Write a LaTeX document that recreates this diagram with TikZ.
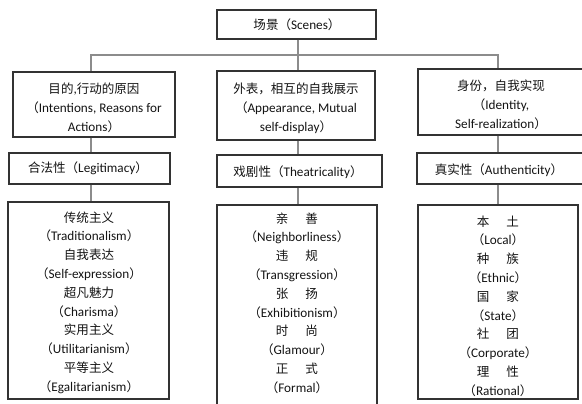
\documentclass[tikz,border=0pt]{standalone}
\usepackage{fontspec}
\setmainfont{Carlito}
\newfontfamily\cjk[Scale=0.95]{Noto Sans CJK SC}
\newcommand{\zh}[1]{{\cjk #1}}
\newcommand{\lp}{{\cjk （}}
\newcommand{\rp}{{\cjk ）}}
\newcommand{\zgap}{\hspace{1.35em}}
\definecolor{boxc}{HTML}{333333}
\definecolor{connc}{HTML}{8C8C8C}
\definecolor{txtc}{HTML}{141414}
\begin{document}
\begin{tikzpicture}[x=1pt,y=-1pt,
  box/.style={draw=boxc,line width=1.1pt,inner sep=0pt,fill=white},
  conn/.style={draw=connc,line width=1.5pt},
  lbl/.style={align=center,text=txtc,inner sep=0pt,font=\fontsize{13.2}{19}\selectfont},
  lblb/.style={lbl,font=\fontsize{13.2}{18.8}\selectfont}]
\useasboundingbox (0,0) rectangle (582,404);
\fill[white] (0,0) rectangle (582,404);
% connector coordinates
\coordinate (bus) at (298,55);
\coordinate (x1) at (91,55);
\coordinate (x2) at (298,55);
\coordinate (x3) at (498,55);
% boxes
\node[box,minimum width=159pt,minimum height=29pt] (top) at (296.5,24.5) {};
\node[box,minimum width=162pt,minimum height=65pt] (l2a) at (94,104.5) {};
\node[box,minimum width=158pt,minimum height=69pt] (l2b) at (296,105.5) {};
\node[box,minimum width=177pt,minimum height=66pt] (l2c) at (506.5,102) {};
\node[box,minimum width=161pt,minimum height=31pt] (l3a) at (89.5,168.5) {};
\node[box,minimum width=165pt,minimum height=32pt] (l3b) at (299.5,171) {};
\node[box,minimum width=178pt,minimum height=31pt] (l3c) at (506,168.5) {};
\node[box,minimum width=161pt,minimum height=197pt] (l4a) at (88.5,300.5) {};
\node[box,minimum width=160pt,minimum height=210pt] (l4b) at (297,310) {};
\node[box,minimum width=160pt,minimum height=194pt] (l4c) at (498,302) {};
% connectors
\draw[conn] (top.south -| x2) -- (bus);
\draw[conn] (l2a.north -| x1) -- (x1) -- (x3) -- (l2c.north -| x3);
\draw[conn] (bus) -- (l2b.north -| x2);
\draw[conn] (l2a.south -| x1) -- (l3a.north -| x1);
\draw[conn] (l2b.south -| x2) -- (l3b.north -| x2);
\draw[conn] (l2c.south -| x3) -- (l3c.north -| x3);
\draw[conn] (l3a.south -| x1) -- (l4a.north -| x1);
\draw[conn] (l3b.south -| x2) -- (l4b.north -| x2);
\draw[conn] (l3c.south -| x3) -- (l4c.north -| x3);
% texts
\node[lbl] (ttop) at (297,24.5) {\zh{场景}\lp Scenes\rp};
\node[lbl] (t2a) at (94,108) {\zh{目的},\zh{行动的原因}\\\lp Intentions, Reasons for\\Actions\rp};
\node[lbl] (t2b) at (296,108) {\zh{外表，相互的自我展示}\\\lp Appearance, Mutual\\self-display\rp};
\node[lbl] (t2c) at (501,104.5) {\zh{身份，自我实现}\\\lp Identity,\\Self-realization\rp};
\node[lbl] (t3a) at (88,168.5) {\zh{合法性}\lp Legitimacy\rp};
\node[lbl] (t3b) at (298,172) {\zh{戏剧性}\lp Theatricality\rp};
\node[lbl] (t3c) at (499,170) {\zh{真实性}\lp Authenticity\rp};
\node[lblb] (t4a) at (89,302.5) {\zh{传统主义}\\\lp Traditionalism\rp\\\zh{自我表达}\\\lp Self-expression\rp\\\zh{超凡魅力}\\\lp Charisma\rp\\\zh{实用主义}\\\lp Utilitarianism\rp\\\zh{平等主义}\\\lp Egalitarianism\rp};
\node[lblb] (t4b) at (297,303) {\zh{亲\zgap 善}\\\lp Neighborliness\rp\\\zh{违\zgap 规}\\\lp Transgression\rp\\\zh{张\zgap 扬}\\\lp Exhibitionism\rp\\\zh{时\zgap 尚}\\\lp Glamour\rp\\\zh{正\zgap 式}\\\lp Formal\rp};
\node[lblb] (t4c) at (498,306) {\zh{本\zgap 土}\\\lp Local\rp\\\zh{种\zgap 族}\\\lp Ethnic\rp\\\zh{国\zgap 家}\\\lp State\rp\\\zh{社\zgap 团}\\\lp Corporate\rp\\\zh{理\zgap 性}\\\lp Rational\rp};
\end{tikzpicture}
\end{document}
